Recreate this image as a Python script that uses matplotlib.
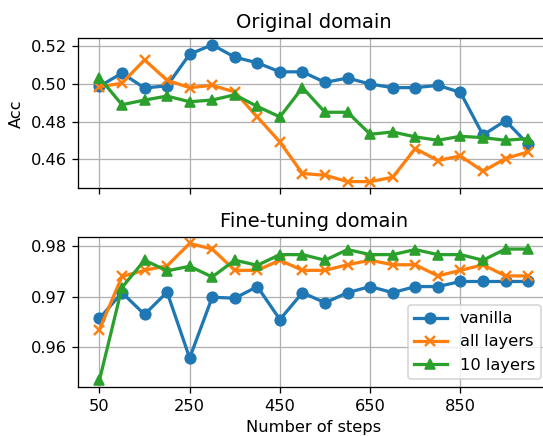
import numpy as np
import matplotlib.pyplot as plt

# steps evaluated: every 50 steps from 50 to 1000
steps = np.arange(50, 1001, 50)

# accuracy on the original domain
orig_vanilla = [0.4988, 0.5058, 0.4979, 0.4991, 0.5159, 0.5209, 0.5143, 0.5113, 0.5065, 0.5065,
                0.5009, 0.5032, 0.5000, 0.4981, 0.4981, 0.4993, 0.4956, 0.4729, 0.4805, 0.4680]
orig_all = [0.4986, 0.5004, 0.5129, 0.5020, 0.4981, 0.4993, 0.4958, 0.4825, 0.4692, 0.4524,
            0.4515, 0.4481, 0.4481, 0.4504, 0.4657, 0.4593, 0.4618, 0.4536, 0.4604, 0.4639]
orig_10 = [0.5034, 0.4890, 0.4915, 0.4936, 0.4906, 0.4915, 0.4943, 0.4881, 0.4825, 0.4981,
           0.4850, 0.4850, 0.4733, 0.4745, 0.4719, 0.4701, 0.4722, 0.4715, 0.4701, 0.4710]

# accuracy on the fine-tuning domain
ft_vanilla = [0.9657, 0.9708, 0.9665, 0.9709, 0.9579, 0.9699, 0.9697, 0.9720, 0.9655, 0.9708,
              0.9688, 0.9708, 0.9720, 0.9708, 0.9720, 0.9720, 0.9730, 0.9730, 0.9730, 0.9730]
ft_all = [0.9635, 0.9740, 0.9752, 0.9761, 0.9805, 0.9794, 0.9752, 0.9752, 0.9772, 0.9752,
          0.9752, 0.9763, 0.9772, 0.9763, 0.9763, 0.9741, 0.9752, 0.9763, 0.9741, 0.9741]
ft_10 = [0.9535, 0.9718, 0.9772, 0.9751, 0.9760, 0.9739, 0.9772, 0.9762, 0.9783, 0.9783,
         0.9772, 0.9793, 0.9783, 0.9783, 0.9793, 0.9783, 0.9783, 0.9772, 0.9794, 0.9794]

labels = ['vanilla', 'all layers', '10 layers']
markers = ['o', 'x', '^']
colors = ['#1f77b4', '#ff7f0e', '#2ca02c']

DPI = 117
fig, (ax1, ax2) = plt.subplots(2, 1, sharex=True, figsize=(543 / DPI, 436 / DPI), dpi=DPI)
fig.subplots_adjust(left=0.1436, right=1.012, top=0.913, bottom=0.112, hspace=0.32)

for ax, series in [(ax1, [orig_vanilla, orig_all, orig_10]),
                   (ax2, [ft_vanilla, ft_all, ft_10])]:
    for y, lab, m, c in zip(series, labels, markers, colors):
        ax.plot(steps, y, marker=m, color=c, label=lab, linewidth=2, markersize=6.5,
                markeredgewidth=1.5 if m == 'x' else 1)
    ax.grid(True)

ax1.set_title('Original domain')
ax1.set_ylabel('Acc')
ax1.set_yticks([0.46, 0.48, 0.50, 0.52])

ax2.set_title('Fine-tuning domain')
ax2.set_yticks([0.96, 0.97, 0.98])
ax2.set_xticks(np.arange(50, 1000, 200))
ax2.set_xlabel('Number of steps')
ax2.legend(loc='lower right')

fig.savefig('out.png', dpi=DPI)
